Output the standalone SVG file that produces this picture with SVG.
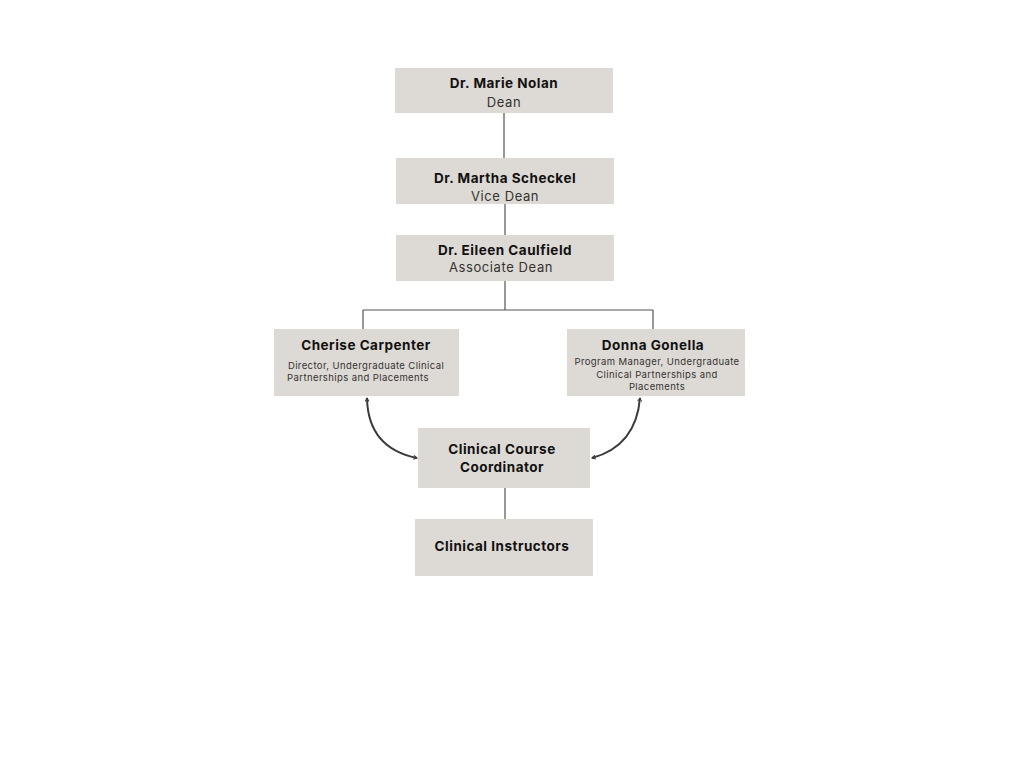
<svg xmlns="http://www.w3.org/2000/svg" width="1024" height="768" viewBox="0 0 1024 768">
<style>
.box{fill:#ddd9d4}
.n{font-family:Inter,"Noto Sans",sans-serif;font-weight:700;font-size:13.5px;fill:#111;text-anchor:middle;letter-spacing:0.5px}
.r{font-family:Inter,"Noto Sans",sans-serif;font-size:13px;fill:#333;text-anchor:middle;letter-spacing:0.6px}
.s{font-family:Inter,"Noto Sans",sans-serif;font-size:9.5px;fill:#333;text-anchor:middle;letter-spacing:0.4px}
.l{stroke:#555;stroke-width:1.2;fill:none}
.a{stroke:#3a3a3a;stroke-width:2;fill:none;marker-start:url(#ar);marker-end:url(#ar)}
</style>
<defs>
<marker id="ar" viewBox="0 0 10 10" refX="8" refY="5" markerWidth="5" markerHeight="5" orient="auto-start-reverse" markerUnits="userSpaceOnUse"><path d="M1,1 L8,5 L1,9" fill="none" stroke="#3a3a3a" stroke-width="2"/></marker>
</defs>
<rect width="1024" height="768" fill="#fff"/>
<g id="connectors">
<path class="l" d="M504,113V158M505,204V235M505,281V310M363,310H653M363,310V329M653,310V329M505,488V519"/>
<path class="a" d="M367,398 Q368,448 417,458"/>
<path class="a" d="M640,398 Q636,446 592,458"/>
</g>
<g id="n1"><rect class="box" x="395" y="68" width="218" height="45"/><text class="n" x="504" y="88">Dr. Marie Nolan</text><text class="r" x="504" y="107">Dean</text></g>
<g id="n2"><rect class="box" x="396" y="158" width="218" height="46"/><text class="n" x="505" y="183">Dr. Martha Scheckel</text><text class="r" x="505" y="201">Vice Dean</text></g>
<g id="n3"><rect class="box" x="396" y="235" width="218" height="46"/><text class="n" x="505" y="255">Dr. Eileen Caulfield</text><text class="r" x="501" y="272">Associate Dean</text></g>
<g id="n4"><rect class="box" x="274" y="329" width="185" height="67"/><text class="n" x="366" y="350">Cherise Carpenter</text><text class="s" x="366" y="369">Director, Undergraduate Clinical</text><text class="s" x="358" y="381">Partnerships and Placements</text></g>
<g id="n5"><rect class="box" x="567" y="329" width="178" height="67"/><text class="n" x="653" y="350">Donna Gonella</text><text class="s" x="657" y="365">Program Manager, Undergraduate</text><text class="s" x="657" y="378">Clinical Partnerships and</text><text class="s" x="657" y="390">Placements</text></g>
<g id="n6"><rect class="box" x="418" y="428" width="172" height="60"/><text class="n" x="502" y="454">Clinical Course</text><text class="n" x="502" y="472">Coordinator</text></g>
<g id="n7"><rect class="box" x="415" y="519" width="178" height="57"/><text class="n" x="502" y="551">Clinical Instructors</text></g>
</svg>
